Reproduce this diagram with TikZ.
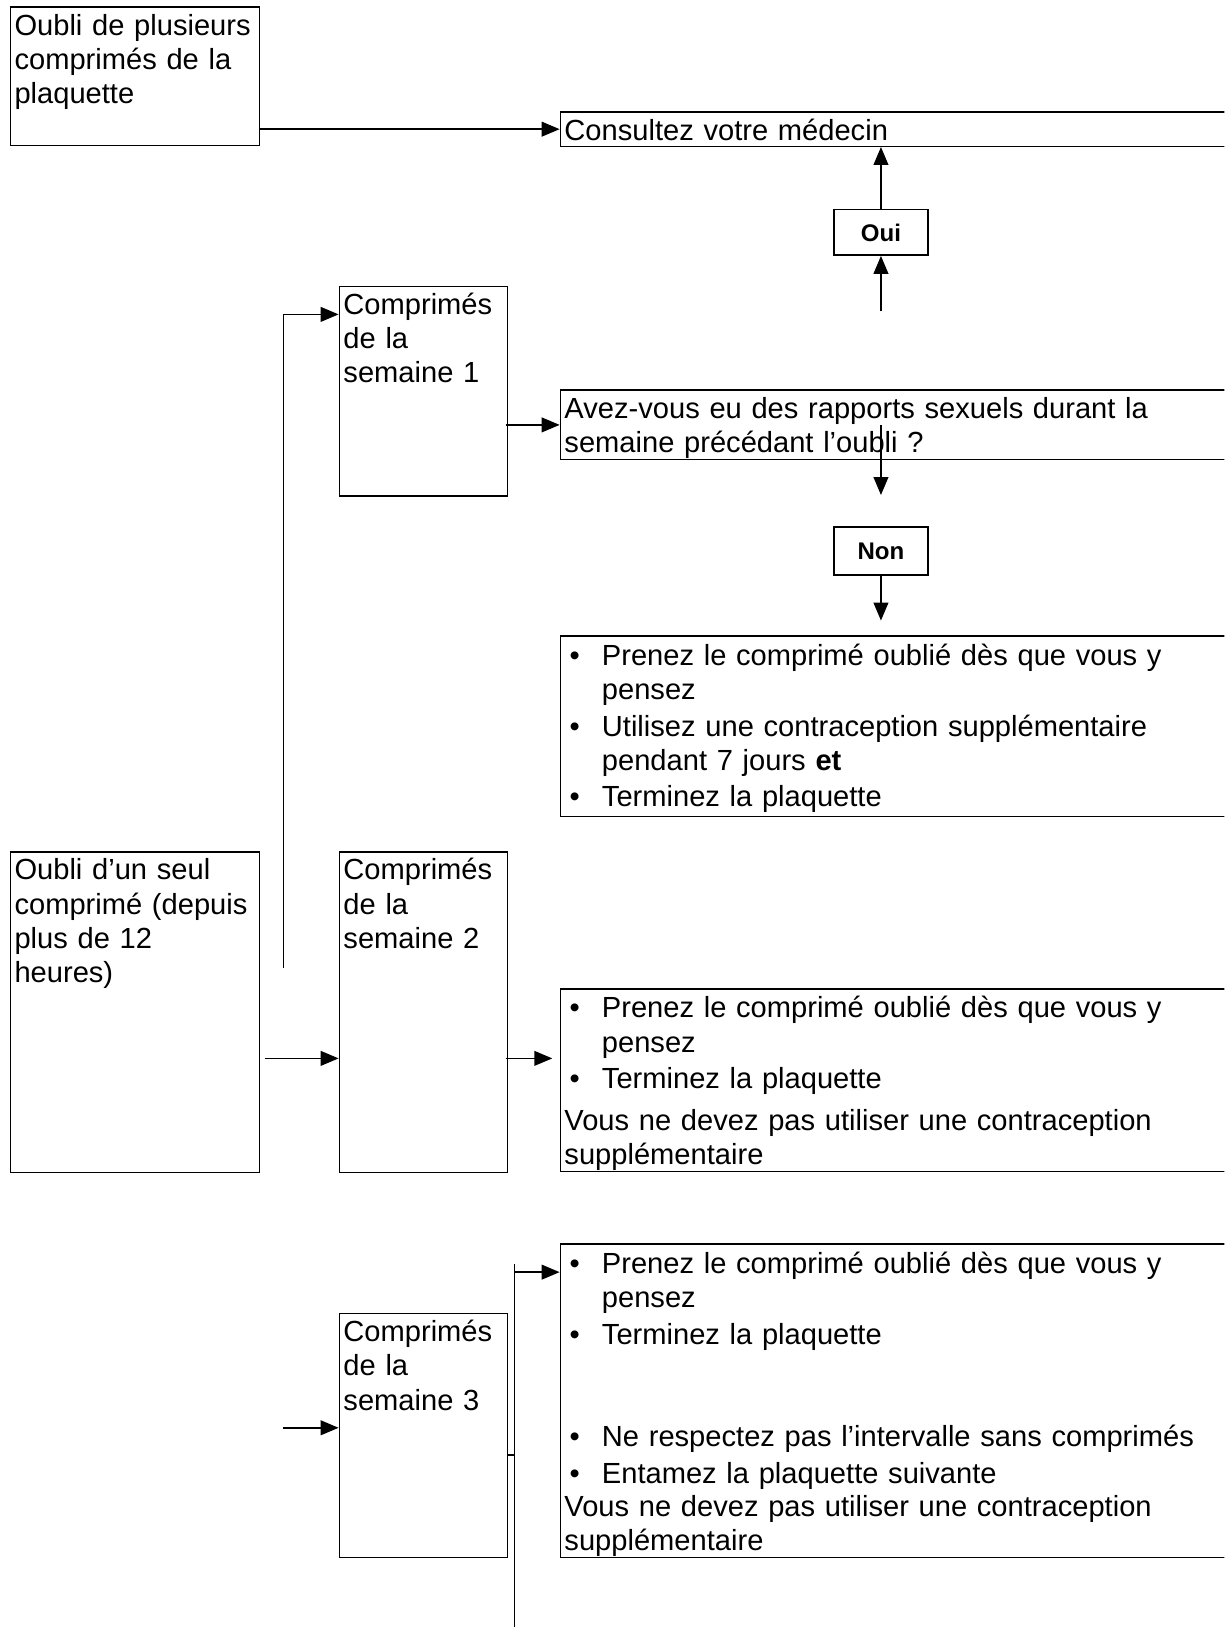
\documentclass[tikz,border=0pt]{standalone}
\usepackage{fontspec}
\setmainfont{Liberation Sans}
\usetikzlibrary{arrows,fit,positioning}
\newcommand{\itembul}[1]{\hangindent=14.8pt\hangafter=1\noindent\makebox[14.8pt][l]{\hspace{2pt}\textbullet}#1\par\vspace{1pt}}

\begin{document}
\begin{tikzpicture}[->, >=triangle 45, x=0.41pt, y=-0.41pt, line width=0.6pt,
    font=\fontsize{11.5}{13.5}\selectfont,
    box/.style={draw, rectangle, inner sep=0pt},
    txt/.style={anchor=north west, inner sep=0pt, text width=#1, align=left, execute at begin node=\strut},
    txt/.default=120pt,
    yesno/.style={draw, minimum width=37pt, minimum height=18pt, inner sep=0pt, font=\fontsize{9.5}{11}\selectfont\bfseries}]
    \useasboundingbox (0,0) rectangle (1180,1568);
    \clip (0,0) rectangle (1180,1568);

    % boxes
    \node [box, fit={(10,7) (250,140)}] (multi) {};
    \node [box, fit={(540,108) (1195,141)}] (doctor) {};
    \node [box, fit={(327,276) (489,478)}] (w1) {};
    \node [box, fit={(540,376) (1195,443)}] (q) {};
    \node [box, fit={(540,613) (1195,787)}] (r1) {};
    \node [box, fit={(10,821) (250,1130)}] (single) {};
    \node [box, fit={(327,821) (489,1130)}] (w2) {};
    \node [box, fit={(540,953) (1195,1129)}] (r2) {};
    \node [box, fit={(327,1266) (489,1501)}] (w3) {};
    \node [box, fit={(540,1199) (1195,1501)}] (r3) {};
    \node [yesno] (oui) at (849,224) {Oui};
    \node [yesno, minimum height=19pt] (non) at (849,531) {Non};

    % texts
    \node [txt] (tmulti) at ([shift={(4,4)}]multi.north west) {Oubli de plusieurs\\comprimés de la\\plaquette};
    \node [txt=260pt] (tdoctor) at ([shift={(4,4)}]doctor.north west) {Consultez votre médecin};
    \node [txt] (tw1) at ([shift={(4,4)}]w1.north west) {Comprimés\\de la\\semaine 1};
    \node [txt=260pt] (tq) at ([shift={(4,4)}]q.north west) {Avez-vous eu des rapports sexuels durant la\\semaine précédant l’oubli ?};
    \node [txt=260pt] (tr1) at ([shift={(4,5)}]r1.north west) {\itembul{Prenez le comprimé oublié dès que vous y\hfil\break pensez}\itembul{Utilisez une contraception supplémentaire\hfil\break pendant 7 jours \textbf{et}}\itembul{Terminez la plaquette}};
    \node [txt] (tsingle) at ([shift={(4,4)}]single.north west) {Oubli d’un seul\\comprimé (depuis\\plus de 12\\heures)};
    \node [txt] (tw2) at ([shift={(4,4)}]w2.north west) {Comprimés\\de la\\semaine 2};
    \node [txt=260pt] (tr2) at ([shift={(4,5)}]r2.north west) {\itembul{Prenez le comprimé oublié dès que vous y\hfil\break pensez}\itembul{Terminez la plaquette}\vspace{2pt}\noindent Vous ne devez pas utiliser une contraception\hfil\break supplémentaire};
    \node [txt] (tw3) at ([shift={(4,4)}]w3.north west) {Comprimés\\de la\\semaine 3};
    \node [txt=260pt] (tr3) at ([shift={(4,5)}]r3.north west) {\itembul{Prenez le comprimé oublié dès que vous y\hfil\break pensez}\itembul{Terminez la plaquette}\vspace{26pt}\itembul{Ne respectez pas l’intervalle sans comprimés}\itembul{Entamez la plaquette suivante}\vspace{-1.5pt}\noindent Vous ne devez pas utiliser une contraception\hfil\break supplémentaire};

    % free ends
    \coordinate (upstart) at (273,933);
    \coordinate (upend) at (273,303);
    \coordinate (ouistart) at (849,300);
    \coordinate (qend) at (849,477);
    \coordinate (nonend) at (849,598);
    \coordinate (a2) at (255,1020);
    \coordinate (w3start) at (273,1376);
    \coordinate (bt) at (496,1218);
    \coordinate (bm) at (496,1402);
    \coordinate (ba) at (496,1226);
    \coordinate (bb) at (496,1568);

    % connectors
    \draw (multi.east |- doctor.west) -- (doctor.west);
    \draw (ouistart) -- (oui.south);
    \draw (oui.north) -- (oui.north |- doctor.south);
    \draw (upstart) -- (upend) -- (w1.west |- upend);
    \draw ([xshift=-1pt]w1.east |- q.west) -- (q.west);
    \draw (qend |- q.center) -- (qend);
    \draw (non.south) -- (nonend);
    \draw (a2) -- (w2.west |- a2);
    \draw ([xshift=-1pt]w2.east |- a2) -- ([xshift=-2.9pt]r2.west |- a2);
    \draw (w3start) -- (w3start -| w3.west);
    \draw[-] (bt) -- (bb);
    \draw[-] (bm -| w3.east) -- (bm);
    \draw (ba) -- (ba -| r3.west);
\end{tikzpicture}
\end{document}
